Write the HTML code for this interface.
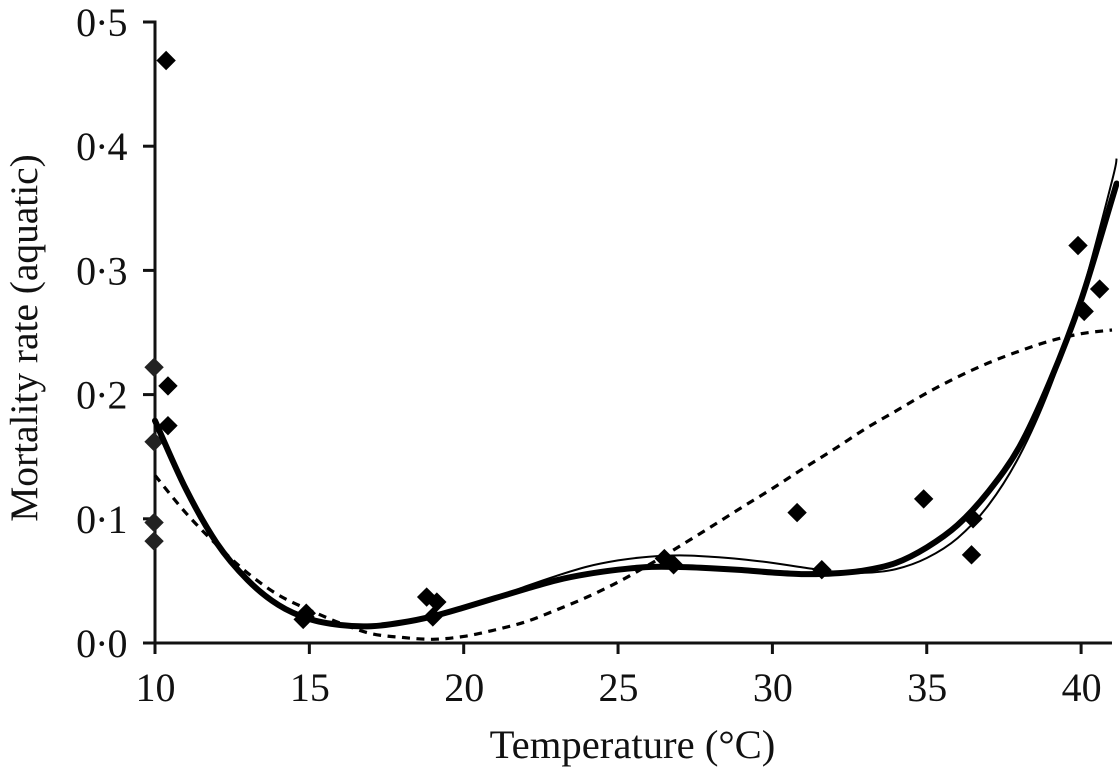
<!DOCTYPE html>
<html>
<head>
<meta charset="utf-8">
<title>Mortality rate vs temperature</title>
<style>
html,body{margin:0;padding:0;background:#fff;}
svg{display:block;}
text{font-family:"Liberation Serif",serif;fill:#111;font-size:40px;}
</style>
</head>
<body>
<svg id="chart" width="1119" height="772" viewBox="0 0 1119 772" xmlns="http://www.w3.org/2000/svg">
  <text transform="translate(37,338) rotate(-90)" text-anchor="middle" style="font-size:39.4px">Mortality rate (aquatic)</text>
  <text x="632.5" y="758" text-anchor="middle" style="font-size:40.7px">Temperature (°C)</text>
</svg>
<script>
var xTicks = [10, 15, 20, 25, 30, 35, 40];
var yTicks = [0, 0.1, 0.2, 0.3, 0.4, 0.5];
var yTickLabels = ['0·0', '0·1', '0·2', '0·3', '0·4', '0·5'];

var temps = [10,11,12,13,14,15,16,17,18,19,20,21,22,23,24,25,26,27,28,29,30,31,32,33,34,35,36,37,38,39,40,41,41.15];
var thickFit = [.179,.124,.0805,.0507,.0306,.0193,.0145,.0135,.0165,.0215,.0285,.036,.0435,.0505,.0555,.059,.0612,.0612,.0602,.0588,.0568,.0555,.056,.0585,.0645,.077,.095,.122,.158,.211,.276,.3575,.370];
var thinFit = [.175,.124,.0805,.0507,.0306,.0193,.0145,.0135,.0165,.0215,.0285,.036,.0455,.054,.0615,.0665,.0695,.0705,.0695,.0675,.0645,.0608,.0575,.0565,.0595,.0684,.0845,.111,.1506,.206,.279,.372,.390];
var dashedFit = [.135,.1047,.079,.0564,.0386,.0266,.016,.0076,.0045,.003,.0053,.0105,.017,.0266,.037,.049,.063,.078,.0934,.109,.1244,.1405,.156,.1723,.1868,.2013,.2142,.2255,.235,.2432,.249,.252];

var obsTemp = [10.36,10.42,10.42,9.97,9.97,9.97,9.97,14.86,14.9,14.8,18.8,19.13,19.0,26.5,26.8,30.8,31.6,34.9,36.5,36.45,39.9,40.1,40.6];
var obsRate = [.469,.207,.175,.222,.162,.097,.082,.021,.024,.019,.037,.033,.021,.068,.063,.105,.059,.116,.100,.071,.320,.267,.285];

var svg = document.getElementById('chart');
var NS = 'http://www.w3.org/2000/svg';
function sx(v){ return 155 + (v - 10) * 30.87; }
function sy(v){ return 643 - v * 1242; }
function mk(tag, attrs, parent){
  var el = document.createElementNS(NS, tag);
  for (var k in attrs) el.setAttribute(k, attrs[k]);
  (parent || svg).appendChild(el);
  return el;
}
function curvePath(xs, ys){
  var p = xs.map(function(x, i){ return [sx(x), sy(ys[i])]; });
  var d = 'M' + p[0][0].toFixed(1) + ' ' + p[0][1].toFixed(1);
  for (var i = 0; i < p.length - 1; i++){
    var a = p[Math.max(i - 1, 0)], b = p[i], c = p[i + 1], e = p[Math.min(i + 2, p.length - 1)];
    d += 'C' + (b[0] + (c[0] - a[0]) / 6).toFixed(1) + ' ' + (b[1] + (c[1] - a[1]) / 6).toFixed(1) + ' ' +
         (c[0] - (e[0] - b[0]) / 6).toFixed(1) + ' ' + (c[1] - (e[1] - b[1]) / 6).toFixed(1) + ' ' +
         c[0].toFixed(1) + ' ' + c[1].toFixed(1);
  }
  return d;
}

var yAxis = mk('line', {x1: sx(10), x2: sx(10), y1: sy(0.5) - 1.5, y2: 654, stroke: '#111', 'stroke-width': 3});


var xAxis = mk('line', {x1: 143, x2: sx(41), y1: sy(0), y2: sy(0), stroke: '#111', 'stroke-width': 3});



xTicks.forEach(function(t){
  var tick = mk('line', {x1: sx(t), x2: sx(t), y1: sy(0), y2: 654, stroke: '#111', 'stroke-width': 3});
  
  
  var label = mk('text', {x: sx(t) + 0.5, y: 701, 'text-anchor': 'middle'});
  
  
  label.textContent = String(t);
});
yTicks.forEach(function(t, i){
  var tick = mk('line', {x1: 143, x2: sx(10), y1: sy(t), y2: sy(t), stroke: '#111', 'stroke-width': 3});
  
  
  var label = mk('text', {x: 126.5, y: sy(t) + 14, 'text-anchor': 'end', 'letter-spacing': '-1'});
  
  
  label.textContent = yTickLabels[i];
});

var dashed = mk('path', {d: curvePath(temps.slice(0, dashedFit.length), dashedFit), fill: 'none', stroke: '#000', 'stroke-width': 3.2, 'stroke-dasharray': '8 6.5'});



obsTemp.forEach(function(t, i){
  var cx = sx(t), cy = sy(obsRate[i]), r = 9.7;
  var pt = mk('polygon', {points: cx + ',' + (cy - r) + ' ' + (cx + r) + ',' + cy + ' ' + cx + ',' + (cy + r) + ' ' + (cx - r) + ',' + cy, fill: t < 10 ? '#222' : '#000'});
  
  
});

var thin = mk('path', {d: curvePath(temps, thinFit), fill: 'none', stroke: '#000', 'stroke-width': 2});


var thick = mk('path', {d: curvePath(temps, thickFit), fill: 'none', stroke: '#000', 'stroke-width': 6, 'stroke-linecap': 'round'});


</script>
</body>
</html>
